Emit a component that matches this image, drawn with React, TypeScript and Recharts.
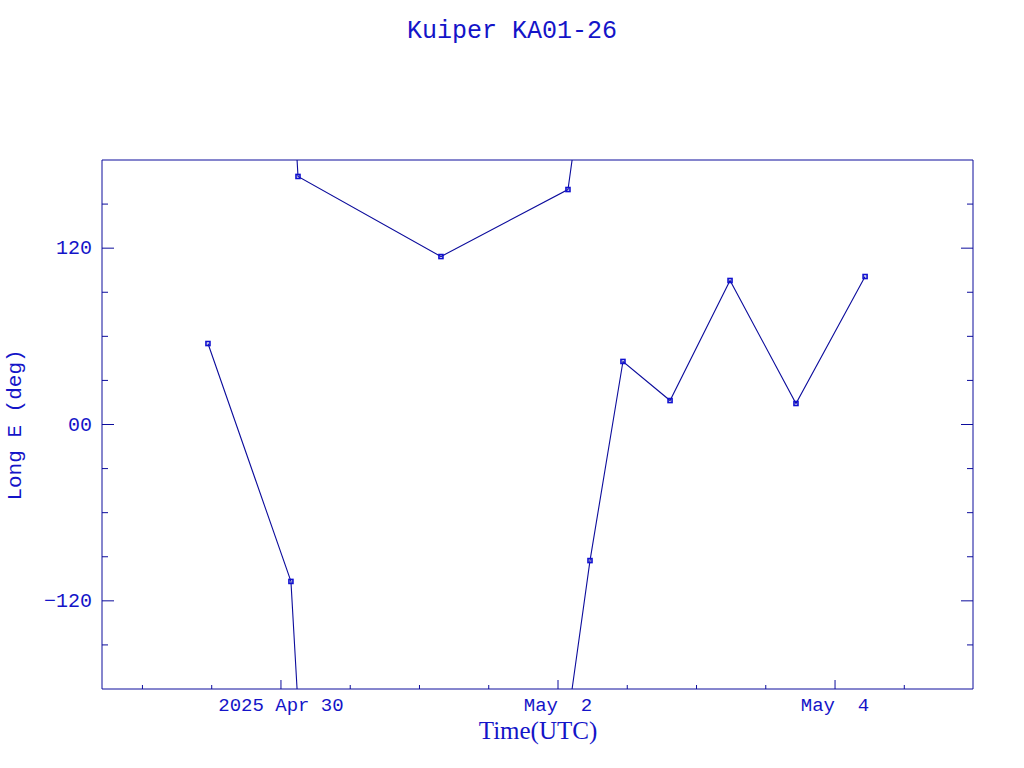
import { LineChart, Line, XAxis, YAxis } from "recharts"

// time in days from 2025 Apr 30 00:00 UTC, longitude east in degrees
const days = [-0.527, 0.072, 0.123, 1.155, 2.072, 2.231, 2.469, 2.809, 3.242, 3.718, 4.217]
const longE = [55.1, -106.8, 168.8, 114.3, 159.9, -92.6, 42.9, 16.3, 98.0, 14.3, 100.7]

const xTicks = [-1, -0.5, 0, 0.5, 1, 1.5, 2, 2.5, 3, 3.5, 4, 4.5]
const xMajor = [0, 2, 4]
const xLabels = ["2025 Apr 30", "May  2", "May  4"]

const yTicks = [-150, -120, -90, -60, -30, 0, 30, 60, 90, 120, 150]
const yMajor = [-120, 0, 120]
const yLabels = ["\u2212120", "00", "120"]

const blue = "#0c0c9c"
const textBlue = "#1414c8"

type Pt = { t: number; v: number }

// split the track where longitude wraps through +/-180, carrying the wrapped
// neighbour so the segment runs off the frame edge (clipped by the axis)
function buildSegments(): Pt[][] {
    const segs: Pt[][] = []
    let cur: Pt[] = [{ t: days[0], v: longE[0] }]
    for (let i = 1; i < days.length; i++) {
        const jump = longE[i] - longE[i - 1]
        if (Math.abs(jump) > 180) {
            const shift = jump > 0 ? -360 : 360
            cur.push({ t: days[i], v: longE[i] + shift })
            segs.push(cur)
            cur = [
                { t: days[i - 1], v: longE[i - 1] - shift },
                { t: days[i], v: longE[i] },
            ]
        } else {
            cur.push({ t: days[i], v: longE[i] })
        }
    }
    segs.push(cur)
    return segs
}

const segments = buildSegments()

function SquareDot(props: any) {
    const { cx, cy, payload, index } = props
    if (payload.v > 180 || payload.v < -180) return <g key={"d" + index} />
    return (
        <rect
            key={"d" + index}
            x={cx - 2}
            y={cy - 2}
            width={4}
            height={4}
            fill="none"
            stroke="#1010d0"
            strokeWidth={1.6}
        />
    )
}

function XTick(props: any) {
    const { x, y, payload, side } = props
    const mi = xMajor.indexOf(payload.value)
    const len = mi >= 0 ? 9 : 4
    const dir = side === "bottom" ? -1 : 1
    return (
        <g>
            <line x1={x} y1={y} x2={x} y2={y + dir * len} stroke={blue} />
            {side === "bottom" && mi >= 0 && (
                <text
                    x={x}
                    y={y + 22}
                    textAnchor="middle"
                    fill={textBlue}
                    fontFamily="Liberation Mono"
                    fontSize={19}
                    style={{ whiteSpace: "pre" }}
                >
                    {xLabels[mi]}
                </text>
            )}
        </g>
    )
}

function YTick(props: any) {
    const { x, y, payload, side } = props
    const mi = yMajor.indexOf(payload.value)
    const len = mi >= 0 ? 12 : 6
    const dir = side === "left" ? 1 : -1
    return (
        <g>
            <line x1={x} y1={y} x2={x + dir * len} y2={y} stroke={blue} />
            {side === "left" && mi >= 0 && (
                <text
                    x={x - 10}
                    y={y + 6}
                    textAnchor="end"
                    fill={textBlue}
                    fontFamily="Liberation Mono"
                    fontSize={20}
                >
                    {yLabels[mi]}
                </text>
            )}
        </g>
    )
}

export default function App() {
    const xDomain = [-1.292, 4.996]
    return (
        <div style={{ position: "absolute", left: 0, top: 0, width: 1024, height: 768, background: "#fff" }}>
            <LineChart
                width={1024}
                height={768}
                margin={{ top: 150, right: 41, bottom: 19, left: 22 }}
            >
                <XAxis
                    dataKey="t"
                    type="number"
                    domain={xDomain}
                    allowDataOverflow
                    ticks={xTicks}
                    interval={0}
                    height={60}
                    tickSize={0}
                    tickMargin={0}
                    tickLine={false}
                    axisLine={{ stroke: blue }}
                    tick={(p: any) => <XTick {...p} side="bottom" />}
                />
                <XAxis
                    xAxisId="top"
                    orientation="top"
                    type="number"
                    domain={xDomain}
                    allowDataOverflow
                    ticks={xTicks}
                    interval={0}
                    height={10}
                    tickSize={0}
                    tickMargin={0}
                    tickLine={false}
                    axisLine={{ stroke: blue }}
                    tick={(p: any) => <XTick {...p} side="top" />}
                />
                <YAxis
                    type="number"
                    domain={[-180, 180]}
                    allowDataOverflow
                    ticks={yTicks}
                    interval={0}
                    width={80}
                    tickSize={0}
                    tickMargin={0}
                    tickLine={false}
                    axisLine={{ stroke: blue }}
                    tick={(p: any) => <YTick {...p} side="left" />}
                />
                <YAxis
                    yAxisId="right"
                    orientation="right"
                    type="number"
                    domain={[-180, 180]}
                    allowDataOverflow
                    ticks={yTicks}
                    interval={0}
                    width={10}
                    tickSize={0}
                    tickMargin={0}
                    tickLine={false}
                    axisLine={{ stroke: blue }}
                    tick={(p: any) => <YTick {...p} side="right" />}
                />
                {segments.map((seg, i) => (
                    <Line
                        key={"seg" + i}
                        data={seg}
                        dataKey="v"
                        type="linear"
                        stroke={blue}
                        strokeWidth={1.1}
                        dot={(p: any) => <SquareDot {...p} />}
                        activeDot={false}
                        isAnimationActive={false}
                    />
                ))}
            </LineChart>
            <svg
                width={1024}
                height={768}
                style={{ position: "absolute", left: 0, top: 0, pointerEvents: "none" }}
            >
                <text x={512} y={38} textAnchor="middle" fill={textBlue} fontFamily="Liberation Mono" fontSize={25}>
                    Kuiper KA01-26
                </text>
                <text x={538} y={739} textAnchor="middle" fill={textBlue} fontFamily="Liberation Serif" fontSize={25}>
                    Time(UTC)
                </text>
                <text
                    x={0}
                    y={0}
                    transform="translate(21 425) rotate(-90)"
                    textAnchor="middle"
                    fill={textBlue}
                    fontFamily="Liberation Mono"
                    fontSize={21}
                >
                    Long E (deg)
                </text>
            </svg>
        </div>
    )
}
